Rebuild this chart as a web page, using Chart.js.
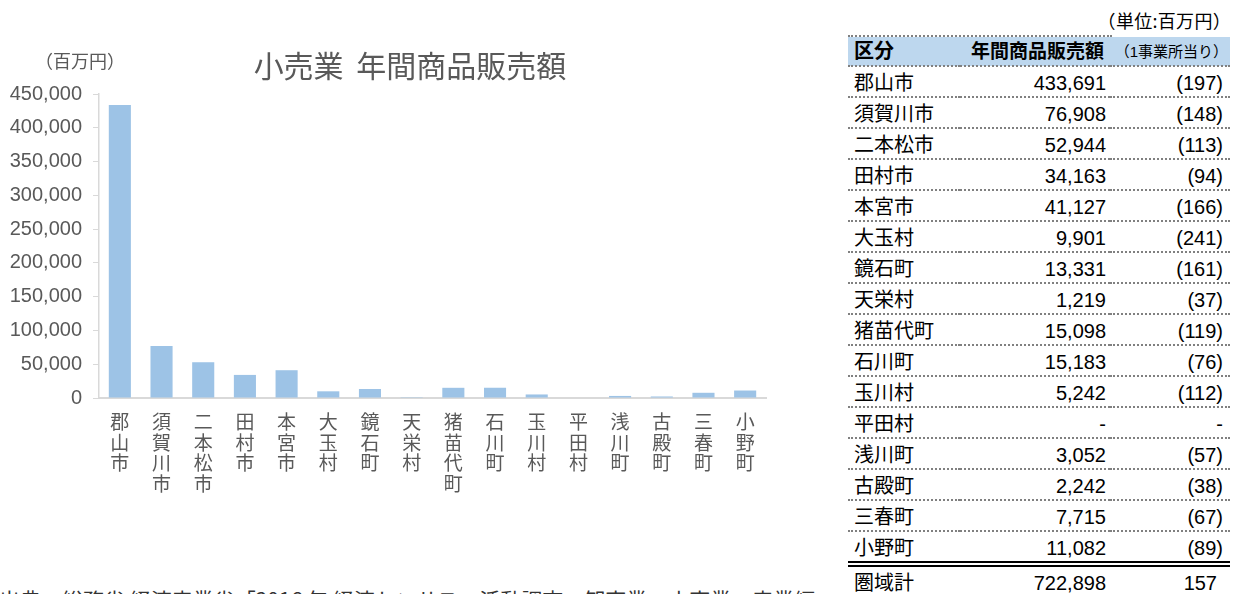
<!DOCTYPE html>
<html lang="ja">
<head>
<meta charset="utf-8">
<script src="https://cdn.jsdelivr.net/npm/chart.js@4.4.1/dist/chart.umd.min.js"></script>
<style>
    html, body {
        margin: 0;
        padding: 0;
        width: 1234px;
        height: 594px;
        overflow: hidden;
        background: #fff;
        font-family: "Noto Sans CJK JP", sans-serif;
    }
    #wrap {
        position: relative;
        width: 1234px;
        height: 594px;
        overflow: hidden;
    }
    #myChart {
        position: absolute;
        left: 0;
        top: 0;
    }
    .title {
        position: absolute;
        left: 0;
        top: 49px;
        width: 820px;
        text-align: center;
        font-size: 30px;
        line-height: 1;
        color: #595959;
        word-spacing: 6px;
    }
    .unit {
        position: absolute;
        left: 0;
        top: 51px;
        width: 160px;
        text-align: center;
        font-size: 18px;
        line-height: 1;
        color: #595959;
    }
    .source {
        position: absolute;
        left: -1px;
        top: 589px;
        font-size: 21px;
        line-height: 1;
        color: #333;
        white-space: nowrap;
    }
    .unit2 {
        position: absolute;
        left: 1040px;
        top: 11px;
        width: 191px;
        text-align: right;
        font-size: 18px;
        line-height: 1;
        letter-spacing: 0.3px;
        color: #000;
    }
    .topline {
        position: absolute;
        left: 848px;
        top: 35px;
        width: 264px;
        border-top: 2px dotted #808080;
    }
    #tabelle {
        position: absolute;
        left: 848px;
        top: 37px;
        width: 382px;
        border-collapse: collapse;
        table-layout: fixed;
        font-family: "Liberation Sans", "Noto Sans CJK JP", sans-serif;
        font-size: 20px;
        color: #000;
    }
    #tabelle td, #tabelle th {
        padding: 0;
        height: 29px;
        line-height: 1;
        border-bottom: 2px dotted #808080;
        white-space: nowrap;
    }
    #tabelle td {
        padding-top: 2px;
        height: 27px;
    }
    #tabelle th {
        background: #bdd7ee;
        height: 28px;
        font-weight: bold;
    }
    #tabelle .name { text-align: left; padding-left: 6px; }
    #tabelle .val { text-align: right; padding-right: 4px; }
    #tabelle .per { text-align: right; padding-right: 7px; }
    #tabelle th.val { font-size: 19px; padding-right: 6px; }
    #tabelle th.per { font-size: 15px; font-weight: normal; padding-right: 2px; }
    #tabelle tr.last td { border-bottom: 6px double #000; }
    #tabelle tr.sum td { border-bottom: none; }
    #tabelle tr.sum td.per { padding-right: 13px; }
</style>
</head>
<body>
<div id="wrap">
    <canvas id="myChart" width="830" height="540"></canvas>
    <div class="title">小売業 年間商品販売額</div>
    <div class="unit">（百万円）</div>
    <div class="source">出典　総務省 経済産業省「2016 年 経済センサス－活動調査　卸売業、小売業　産業編</div>
    <div class="unit2">（単位:百万円）</div>
    <div class="topline"></div>
    <table id="tabelle">
        <colgroup>
            <col style="width:112px">
            <col style="width:150px">
            <col style="width:120px">
        </colgroup>
        <thead>
            <tr>
                <th class="name">区分</th>
                <th class="val">年間商品販売額</th>
                <th class="per">（1事業所当り）</th>
            </tr>
        </thead>
        <tbody id="tabBody"></tbody>
    </table>
</div>
<script>
// 市町村ごとの年間商品販売額（百万円）と1事業所当り
var gemeinden = ["郡山市", "須賀川市", "二本松市", "田村市", "本宮市", "大玉村", "鏡石町", "天栄村",
    "猪苗代町", "石川町", "玉川村", "平田村", "浅川町", "古殿町", "三春町", "小野町"];
var umsatz = [433691, 76908, 52944, 34163, 41127, 9901, 13331, 1219,
    15098, 15183, 5242, null, 3052, 2242, 7715, 11082];
var proBetrieb = [197, 148, 113, 94, 166, 241, 161, 37, 119, 76, 112, null, 57, 38, 67, 89];
var summeName = "圏域計";
var summeUmsatz = 722898;
var summeProBetrieb = 157;
var yTicks = [0, 50000, 100000, 150000, 200000, 250000, 300000, 350000, 400000, 450000];

function fmt(n) {
    return n.toLocaleString("en-US");
}

function initTabelle() {
    var body = document.getElementById("tabBody");
    gemeinden.forEach((name, i) => {
        var tr = document.createElement("tr");
        if (i == gemeinden.length - 1) {
            tr.className = "last";
        }
        var v = umsatz[i] == null ? "-" : fmt(umsatz[i]);
        var p = proBetrieb[i] == null ? "-" : "(" + proBetrieb[i] + ")";
        tr.innerHTML = '<td class="name">' + name + '</td><td class="val">' + v + '</td><td class="per">' + p + '</td>';
        body.appendChild(tr);
    });
    var tr = document.createElement("tr");
    tr.className = "sum";
    tr.innerHTML = '<td class="name">' + summeName + '</td><td class="val">' + fmt(summeUmsatz) + '</td><td class="per">' + summeProBetrieb + '</td>';
    body.appendChild(tr);
}

var mychart = null;
function drawChart() {
    var canvas = document.getElementById('myChart');
    // senkrechte Beschriftung: ein Zeichen pro Zeile
    var labels = gemeinden.map(n => n.split(""));
    mychart = new Chart(canvas, {
        type: 'bar',
        data: {
            labels: labels,
            datasets: [{
                    data: umsatz,
                    backgroundColor: "#9dc3e6",
                    borderWidth: 0,
                    barPercentage: 0.53,
                    categoryPercentage: 1
                }
            ]
        },
        options: {
            responsive: false,
            animation: false,
            layout: {
                padding: {top: 94, left: 0, right: 64, bottom: 0}
            },
            plugins: {
                legend: {display: false},
                title: {display: false},
                tooltip: {enabled: false}
            },
            scales: {
                y: {
                    min: 0,
                    max: 450000,
                    afterFit: function (scale) {
                        scale.width = 99;
                    },
                    afterBuildTicks: function (scale) {
                        scale.ticks = yTicks.map(v => ({value: v}));
                    },
                    ticks: {
                        padding: 11,
                        color: "#595959",
                        font: {family: "Liberation Sans", size: 20},
                        callback: function (v) {
                            return fmt(v);
                        }
                    },
                    grid: {
                        display: true,
                        drawOnChartArea: false,
                        drawTicks: true,
                        tickLength: 6,
                        color: "#d9d9d9"
                    },
                    border: {
                        display: true,
                        color: "#d9d9d9",
                        width: 1.5
                    }
                },
                x: {
                    afterFit: function (scale) {
                        scale.height = 142;
                    },
                    ticks: {
                        autoSkip: false,
                        maxRotation: 0,
                        minRotation: 0,
                        padding: 13,
                        color: "#595959",
                        font: {family: "Noto Sans CJK JP", size: 19, lineHeight: 1.1}
                    },
                    grid: {
                        display: false,
                        drawTicks: false
                    },
                    border: {
                        display: true,
                        color: "#d9d9d9",
                        width: 2
                    }
                }
            }
        }
    });
}

initTabelle();
drawChart();
</script>
</body>
</html>
